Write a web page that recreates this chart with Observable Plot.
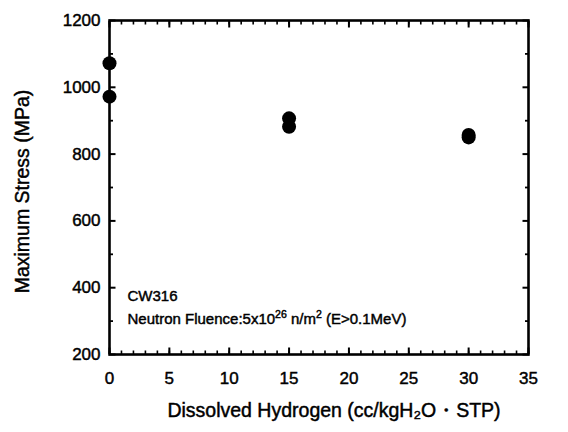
<!DOCTYPE html>
<html>
<head>
<meta charset="utf-8">
<script src="https://cdn.jsdelivr.net/npm/d3@7"></script>
<script src="https://cdn.jsdelivr.net/npm/@observablehq/plot@0.6"></script>
<style>
  html, body { margin: 0; padding: 0; background: #fff; }
  #chart svg { font-family: "Liberation Sans", Arial, sans-serif; }
  #chart svg text { stroke: #000; stroke-width: 0.45px; paint-order: stroke; }
</style>
</head>
<body>
<div id="chart"></div>
<script>
// Data
const hydrogen = [0, 0, 15, 15, 30, 30];           // cc/kgH2O·STP
const stress   = [1072, 972, 907, 882, 857, 850];  // MPa

const xMajorTicks = [0, 5, 10, 15, 20, 25, 30, 35];
const xMinorTicks = d3.range(0, 36, 1);
const yMajorTicks = [200, 400, 600, 800, 1000, 1200];
const yMinorTicks = [300, 500, 700, 900, 1100];

const yTitle = "Maximum Stress (MPa)";
const xTitle = "Dissolved Hydrogen (cc/kgH\u2082O\u30FBSTP)";
const note1 = "CW316";
const note2 = "Neutron Fluence:5x10^26 n/m^2 (E>0.1MeV)";

const points = hydrogen.map((h, i) => ({h, s: stress[i]}));

const W = 568, H = 432;
const mL = 109, mR = 40, mT = 20, mB = 78;

const chart = Plot.plot({
  width: W,
  height: H,
  marginLeft: mL,
  marginRight: mR,
  marginTop: mT,
  marginBottom: mB,
  style: {fontFamily: "'Liberation Sans', Arial, sans-serif", background: "#fff", color: "#000"},
  x: {domain: [0, 35]},
  y: {domain: [200, 1200]},
  marks: [
    // inward minor/major ticks on all four sides
    Plot.axisX({anchor: "bottom", ticks: xMinorTicks, tickSize: -3.5, strokeWidth: 1.6, text: null, label: null}),
    Plot.axisX({anchor: "top", ticks: xMinorTicks, tickSize: -3.5, strokeWidth: 1.6, text: null, label: null}),
    Plot.axisX({anchor: "bottom", ticks: xMajorTicks, tickSize: -6.5, strokeWidth: 2, text: null, label: null}),
    Plot.axisX({anchor: "top", ticks: xMajorTicks, tickSize: -6.5, strokeWidth: 2, text: null, label: null}),
    Plot.axisY({anchor: "left", ticks: yMinorTicks, tickSize: -4, strokeWidth: 1.8, text: null, label: null}),
    Plot.axisY({anchor: "right", ticks: yMinorTicks, tickSize: -4, strokeWidth: 1.8, text: null, label: null}),
    Plot.axisY({anchor: "left", ticks: yMajorTicks, tickSize: -6.5, strokeWidth: 2, text: null, label: null}),
    Plot.axisY({anchor: "right", ticks: yMajorTicks, tickSize: -6.5, strokeWidth: 2, text: null, label: null}),
    // tick labels
    Plot.axisX({anchor: "bottom", ticks: xMajorTicks, tickSize: 0, tickPadding: 17, fontSize: 17,
      tickFormat: d => String(d), label: null}),
    Plot.axisY({anchor: "left", ticks: yMajorTicks, tickSize: 0, tickPadding: 9, fontSize: 17,
      tickFormat: d => String(d), label: null}),
    // axis titles
    Plot.text([xTitle], {frameAnchor: "bottom", dx: 15, dy: 62, fontSize: 19.5, fill: "#000", textAnchor: "middle"}),
    Plot.text([yTitle], {frameAnchor: "left", dx: -87, dy: 4, rotate: -90, fontSize: 19.5, fill: "#000", textAnchor: "middle", lineAnchor: "middle"}),
    Plot.frame({stroke: "#000", strokeWidth: 2.6}),
    Plot.dot(points, {x: "h", y: "s", r: 7, fill: "#000", stroke: "none"}),
    Plot.text([note1], {frameAnchor: "bottom-left", dx: 18, dy: -54, textAnchor: "start", fontSize: 15, fill: "#000"}),
    Plot.text([note2], {frameAnchor: "bottom-left", dx: 18, dy: -31, textAnchor: "start", fontSize: 15, fill: "#000"})
  ]
});

// superscripts in the fluence note
chart.querySelectorAll("text").forEach(t => {
  if (t.textContent === note2) {
    const parts = note2.split(/\^(\d+)/);
    t.textContent = "";
    parts.forEach((p, i) => {
      const ts = document.createElementNS("http://www.w3.org/2000/svg", "tspan");
      ts.textContent = p;
      if (i % 2 === 1) {
        ts.setAttribute("dy", "-6");
        ts.setAttribute("font-size", "10.5");
      } else if (i > 0) {
        ts.setAttribute("dy", "6");
      }
      t.appendChild(ts);
    });
  }
});

document.getElementById("chart").appendChild(chart);
</script>
</body>
</html>
